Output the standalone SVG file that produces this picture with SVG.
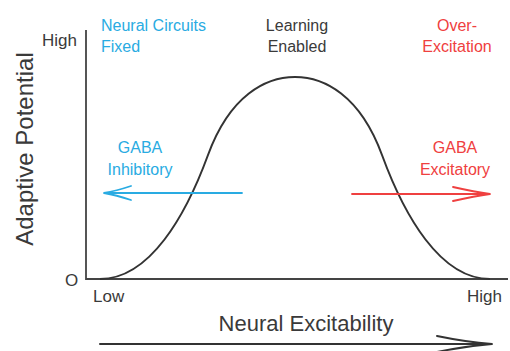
<svg xmlns="http://www.w3.org/2000/svg" width="510" height="351" viewBox="0 0 510 351">
<style>
text{font-family:"Liberation Sans",Arial,sans-serif}
.dk{fill:#3a3a3a}
.bl{fill:#29abe2}
.rd{fill:#ef4040}
.s16{font-size:16px}
.s17{font-size:17px}
.ax{stroke:#444;stroke-width:1.8;fill:none}
</style>
<rect width="510" height="351" fill="#fff"/>
<g id="axes">
<path class="ax" d="M86,30 V279 H508"/>
<text class="dk s17" x="77" y="46" text-anchor="end">High</text>
<text class="dk s17" x="65" y="286">O</text>
<text class="dk s17" x="93" y="302">Low</text>
<text class="dk s17" x="502" y="302" text-anchor="end">High</text>
<text class="dk" font-size="22" x="306" y="331" text-anchor="middle">Neural Excitability</text>
<text class="dk" font-size="24" transform="translate(33,149) rotate(-90)" text-anchor="middle">Adaptive Potential</text>
</g>
<g id="curve">
<path d="M100,279 C150,279 186,215 208,155 C230,95 266,77 295,77 C324,77 360,95 382,155 C404,215 440,279 490,279" fill="none" stroke="#333" stroke-width="2"/>
</g>
<g id="label-fixed">
<text class="bl s16" x="101" y="31">Neural Circuits</text>
<text class="bl s16" x="101" y="52">Fixed</text>
</g>
<g id="label-learning">
<text class="dk s16" x="297" y="31" text-anchor="middle">Learning</text>
<text class="dk s16" x="297" y="52" text-anchor="middle">Enabled</text>
</g>
<g id="label-over">
<text class="rd s16" x="457" y="31" text-anchor="middle">Over-</text>
<text class="rd s16" x="457" y="52" text-anchor="middle">Excitation</text>
</g>
<g id="inhibitory">
<text class="bl s16" x="140" y="153" text-anchor="middle">GABA</text>
<text class="bl s16" x="140" y="175" text-anchor="middle">Inhibitory</text>
</g>
<g id="excitatory">
<text class="rd s16" x="455" y="153" text-anchor="middle">GABA</text>
<text class="rd s16" x="455" y="175" text-anchor="middle">Excitatory</text>
</g>
<g id="connectors" fill="none" stroke-width="1.8" stroke-linecap="round" stroke-linejoin="miter">
<path d="M242,193 H104 M131,186 Q116,191 104,193 Q116,195 131,200" stroke="#29abe2"/>
<path d="M352,194 H490 M453,187 Q475,192 490,194 Q475,196 453,201" stroke="#ef4040"/>
<path d="M100,344 H492 M437,336 Q466,342 492,344 Q466,346 437,352" stroke="#333" stroke-width="2"/>
</g>
</svg>
